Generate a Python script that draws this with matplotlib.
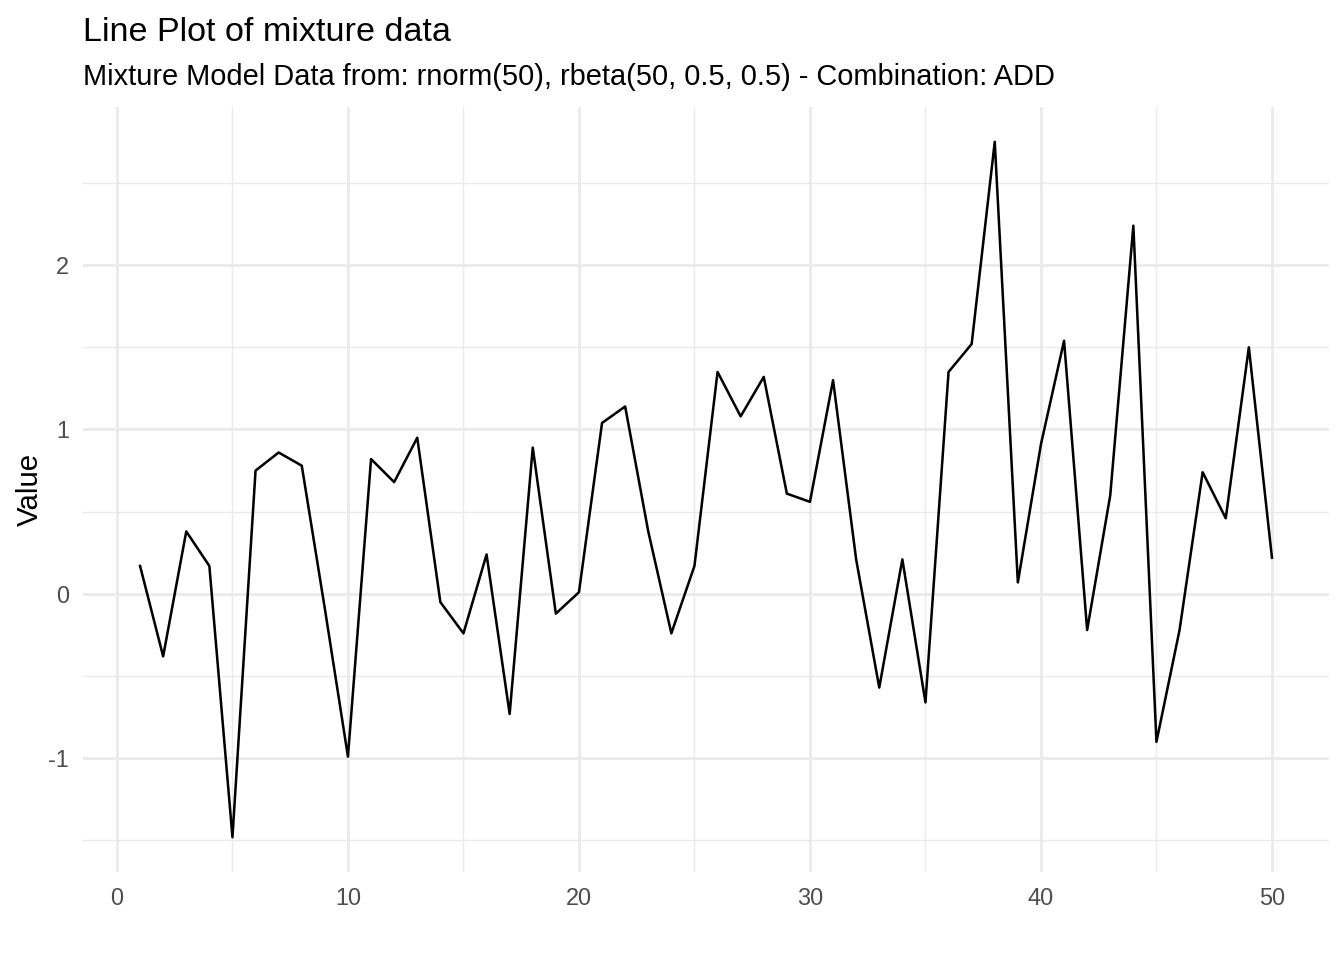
import matplotlib

matplotlib.use("Agg")
import matplotlib.pyplot as plt  # noqa: E402
from matplotlib.ticker import MultipleLocator  # noqa: E402

TITLE = "Line Plot of mixture data"
SUBTITLE = "Mixture Model Data from: rnorm(50), rbeta(50, 0.5, 0.5) - Combination: ADD"

# values, index 1..50
index = list(range(1, 51))
values = [
    0.17, -0.38, 0.38, 0.17, -1.48, 0.75, 0.86, 0.78, -0.09, -0.99,
    0.82, 0.68, 0.95, -0.05, -0.24, 0.24, -0.73, 0.89, -0.12, 0.01,
    1.04, 1.14, 0.38, -0.24, 0.17, 1.35, 1.08, 1.32, 0.61, 0.56,
    1.30, 0.21, -0.57, 0.21, -0.66, 1.35, 1.52, 2.75, 0.07, 0.91,
    1.54, -0.22, 0.60, 2.24, -0.90, -0.22, 0.74, 0.46, 1.50, 0.22,
]

GRID = "#EBEBEB"
TEXT_GREY = "#4D4D4D"

plt.rcParams.update({
    "font.family": ["Liberation Sans", "DejaVu Sans"],
    "font.size": 11,
    "axes.unicode_minus": False,
})

fig = plt.figure(figsize=(7, 5), dpi=192)
ax = fig.add_axes([0.0621, 0.0917, 0.9264, 0.7968])

ax.plot(index, values, color="black", lw=0.95)

# ggplot-style 5% expansion
span_x = max(index) - min(index)
span_y = max(values) - min(values)
ax.set_xlim(min(index) - 0.05 * span_x, max(index) + 0.05 * span_x)
ax.set_ylim(min(values) - 0.05 * span_y, max(values) + 0.05 * span_y)

ax.xaxis.set_major_locator(MultipleLocator(10))
ax.xaxis.set_minor_locator(MultipleLocator(5))
ax.yaxis.set_major_locator(MultipleLocator(1))
ax.yaxis.set_minor_locator(MultipleLocator(0.5))

ax.grid(which="major", color=GRID, lw=1.07)
ax.grid(which="minor", color=GRID, lw=0.53)
ax.set_axisbelow(True)
for spine in ax.spines.values():
    spine.set_visible(False)
ax.tick_params(which="both", length=0, pad=5.5, labelsize=8.8, labelcolor=TEXT_GREY)

ax.set_ylabel("Value", fontsize=11)
ax.yaxis.set_label_coords(-0.032, 0.5)

fig.text(0.0621, 1 - 41 / 960, TITLE, fontsize=12.8, ha="left", va="baseline")
fig.text(0.0621, 1 - 85 / 960, SUBTITLE, fontsize=10.9, ha="left", va="baseline")

fig.savefig("out.png", dpi=192)
plt.close(fig)
